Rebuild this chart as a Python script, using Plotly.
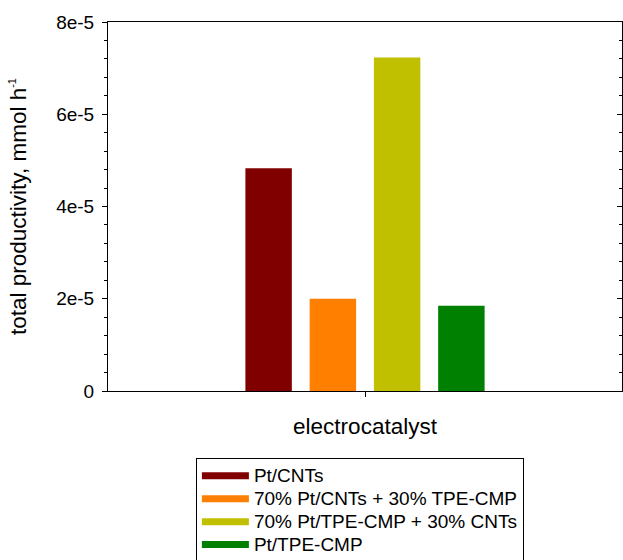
import plotly.graph_objects as go

categories = ["Pt/CNTs", "70% Pt/CNTs + 30% TPE-CMP", "70% Pt/TPE-CMP + 30% CNTs", "Pt/TPE-CMP"]
values = [4.83e-5, 2.00e-5, 7.23e-5, 1.85e-5]
colors = ["#800000", "#FF8000", "#C0C000", "#008000"]
group_label = ["electrocatalyst"]
y_tickvals = [0, 2e-5, 4e-5, 6e-5, 8e-5]
y_ticktext = ["0", "2e-5", "4e-5", "6e-5", "8e-5"]
y_range = [0, 8e-5]

FONT = "Liberation Sans, Arial, sans-serif"

fig = go.Figure()
for name, v, c in zip(categories, values, colors):
    fig.add_trace(go.Bar(x=[0], y=[v], name=name, marker=dict(color=c, line=dict(width=0)),
                         showlegend=False))
for name, c in zip(categories, colors):
    fig.add_trace(go.Scatter(x=[None], y=[None], mode="lines",
                             name='<span style="font-size:19px">' + name + '</span>',
                             line=dict(color=c, width=7), showlegend=True))
fig.add_trace(go.Scatter(x=[None], y=[None], yaxis="y2", showlegend=False, hoverinfo="skip"))

fig.update_layout(
    width=623, height=560,
    margin=dict(l=108, r=1, t=22, b=168.5, autoexpand=False),
    paper_bgcolor="white", plot_bgcolor="white",
    barmode="group", bargap=0.0, bargroupgap=0.277,
    font=dict(family=FONT, color="black", size=17),
    showlegend=True,
    legend=dict(x=0.171, y=-0.1827, xanchor="left", yanchor="top",
                bordercolor="black", borderwidth=1, bgcolor="white",
                font=dict(size=15.3, family=FONT), itemwidth=47,
                tracegroupgap=0, traceorder="normal"),
    xaxis=dict(range=[-1, 1], showgrid=False, zeroline=False,
               showline=True, linecolor="black", linewidth=1, mirror=True,
               ticks="outside", ticklen=5, tickcolor="black",
               tickvals=[0], ticktext=[""],
               title=dict(text=group_label[0], font=dict(size=22.5, family=FONT), standoff=18)),
    yaxis=dict(range=y_range, showgrid=False, zeroline=False,
               showline=True, linecolor="black", linewidth=1, mirror=True,
               ticks="outside", ticklen=5, tickcolor="black",
               tickvals=y_tickvals, ticktext=y_ticktext, ticklabelstandoff=4,
               tickfont=dict(size=19, family=FONT),
               minor=dict(ticks="outside", ticklen=3, dtick=4e-6, tickcolor="black", showgrid=False),
               title=dict(text='total productivity, mmol h<sup><span style="font-size:11px">-1</span></sup>',
                          font=dict(size=22.5, family=FONT), standoff=23)),
    yaxis2=dict(range=y_range, overlaying="y", side="right", showgrid=False, zeroline=False,
                showline=False, showticklabels=False,
                ticks="inside", ticklen=5, tickcolor="black", tickvals=y_tickvals,
                minor=dict(ticks="inside", ticklen=3, dtick=4e-6, tickcolor="black", showgrid=False)),
)
fig.write_html("out.html")
